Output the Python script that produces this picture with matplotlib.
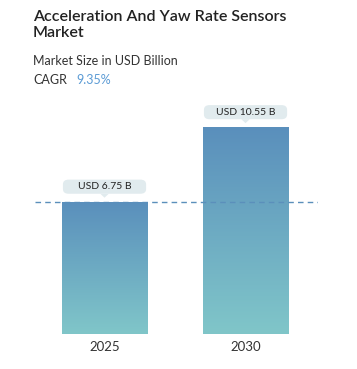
import numpy as np
import matplotlib.pyplot as plt
from matplotlib.patches import FancyBboxPatch, Polygon
from matplotlib.colors import LinearSegmentedColormap

years = ['2025', '2030']
values = [6.75, 10.55]
labels = ['USD 6.75 B', 'USD 10.55 B']
cagr = '9.35%'

plt.rcParams['font.family'] = ['Lato', 'DejaVu Sans']

W, H = 357, 369
fig = plt.figure(figsize=(W / 100, H / 100), dpi=100)
# axes from x=35..318 px, y=100..334 px (from top)
ax = fig.add_axes([35 / W, (H - 334) / H, 283 / W, 234 / H])

x = np.arange(len(values))
width = 0.603
ax.set_xlim(-0.493, 1.514)
ax.set_ylim(0, 11.93)

cmap = LinearSegmentedColormap.from_list('g', ['#80c6c9', '#5a8fbc'])
grad = np.linspace(0, 1, 256).reshape(-1, 1)
bars = ax.bar(x, values, width=width, color='none', edgecolor='none')
for b, v in zip(bars, values):
    x0 = b.get_x()
    im = ax.imshow(grad, extent=[x0, x0 + width, 0, v], origin='lower',
                   cmap=cmap, aspect='auto', zorder=2)
    im.set_clip_path(b)

# dashed reference line at first bar value
ax.axhline(values[0], color='#5b8fbb', lw=1, ls=(0, (4, 3)), zorder=3)

# value callouts
for xi, v, lab in zip(x, values, labels):
    by = v + 0.4
    bh = 0.72
    box = FancyBboxPatch((xi - 0.295, by), 0.59, bh,
                         boxstyle='round,pad=0,rounding_size=0.04',
                         fc='#e1ebee', ec='none', zorder=4, mutation_aspect=6)
    ax.add_patch(box)
    ax.add_patch(Polygon([[xi - 0.03, by], [xi + 0.03, by], [xi, by - 0.2]],
                         closed=True, fc='#e1ebee', ec='none', zorder=4))
    ax.text(xi, by + bh / 2, lab, ha='center', va='center', fontsize=7.5,
            color='#222222', zorder=5)

ax.set_xticks(x)
ax.set_xticklabels(years, fontsize=9.5, color='#333333')
ax.tick_params(axis='x', length=0, pad=5)
ax.set_yticks([])
for s in ax.spines.values():
    s.set_visible(False)

fig.text(33 / W, 1 - 10 / H, 'Acceleration And Yaw Rate Sensors\nMarket', fontsize=11.5,
         fontweight='semibold', color='#222222', va='top', linespacing=1.2)
fig.text(33 / W, 1 - 61 / H, 'Market Size in USD Billion', fontsize=9,
         color='#333333', va='center')
fig.text(33 / W, 1 - 80 / H, 'CAGR', fontsize=9, color='#333333', va='center')
fig.text(76 / W, 1 - 80 / H, cagr, fontsize=9, color='#5b9bd5', va='center')

fig.savefig('out.png', dpi=100)
